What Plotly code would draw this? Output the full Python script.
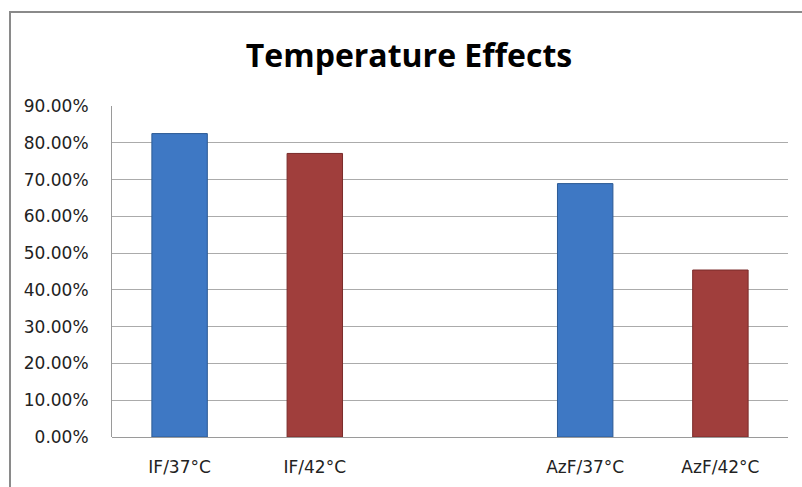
import plotly.graph_objects as go

categories = ["IF/37°C", "IF/42°C", " ", "AzF/37°C", "AzF/42°C"]
values = [0.825, 0.771, None, 0.689, 0.454]
bar_colors = ["#3E78C4", "#A03E3C", "#3E78C4", "#3E78C4", "#A03E3C"]
line_colors = ["#2C5A94", "#7A2B2A", "#2C5A94", "#2C5A94", "#7A2B2A"]
y_ticks = [0, 0.1, 0.2, 0.3, 0.4, 0.5, 0.6, 0.7, 0.8, 0.9]
y_tick_labels = ["0.00%", "10.00%", "20.00%", "30.00%", "40.00%", "50.00%",
                 "60.00%", "70.00%", "80.00%", "90.00%"]
title_text = "Temperature Effects"

W, H = 802, 487
ML, MR, MT, MB = 112, 14, 106, 50
pw = W - ML - MR
ph = H - MT - MB

fig = go.Figure()
fig.add_trace(go.Bar(
    x=categories, y=values, width=0.41,
    marker=dict(color=bar_colors, line=dict(color=line_colors, width=1)),
    hoverinfo="x+y",
))

# outer chart border (decoration)
fig.add_shape(type="rect", xref="paper", yref="paper",
              x0=(10 - ML) / pw, x1=(W + 30 - ML) / pw,
              y0=-(MB + 30) / ph, y1=(ph + MT - 12) / ph,
              line=dict(color="#8A8A8A", width=2), fillcolor="rgba(0,0,0,0)",
              layer="below")

fig.update_layout(
    width=W, height=H,
    margin=dict(l=ML, r=MR, t=MT, b=MB, autoexpand=False),
    paper_bgcolor="white", plot_bgcolor="white",
    title=dict(text="<b>" + title_text + "</b>", x=(409) / W, xanchor="center",
               yref="container", y=1 - 56 / H, yanchor="middle",
               font=dict(family="Open Sans", size=32, color="#000000")),
    showlegend=False,
    bargap=0.59,
    xaxis=dict(type="category", categoryorder="array", categoryarray=categories,
               showgrid=False, showline=False, zeroline=False, automargin=False,
               ticks="outside", ticklen=0, ticklabelstandoff=15,
               tickfont=dict(family="DejaVu Sans", size=17, color="#222222")),
    yaxis=dict(range=[0, 0.9], tickvals=y_ticks, ticktext=y_tick_labels,
               showgrid=True, gridcolor="#ABABAB", gridwidth=1, automargin=False,
               showline=True, linecolor="#9A9A9A", linewidth=1,
               zeroline=True, zerolinecolor="#9A9A9A", zerolinewidth=1,
               ticks="outside", ticklen=0, ticklabelstandoff=19,
               tickfont=dict(family="DejaVu Sans", size=17, color="#222222")),
)

fig.write_html("out.html")
